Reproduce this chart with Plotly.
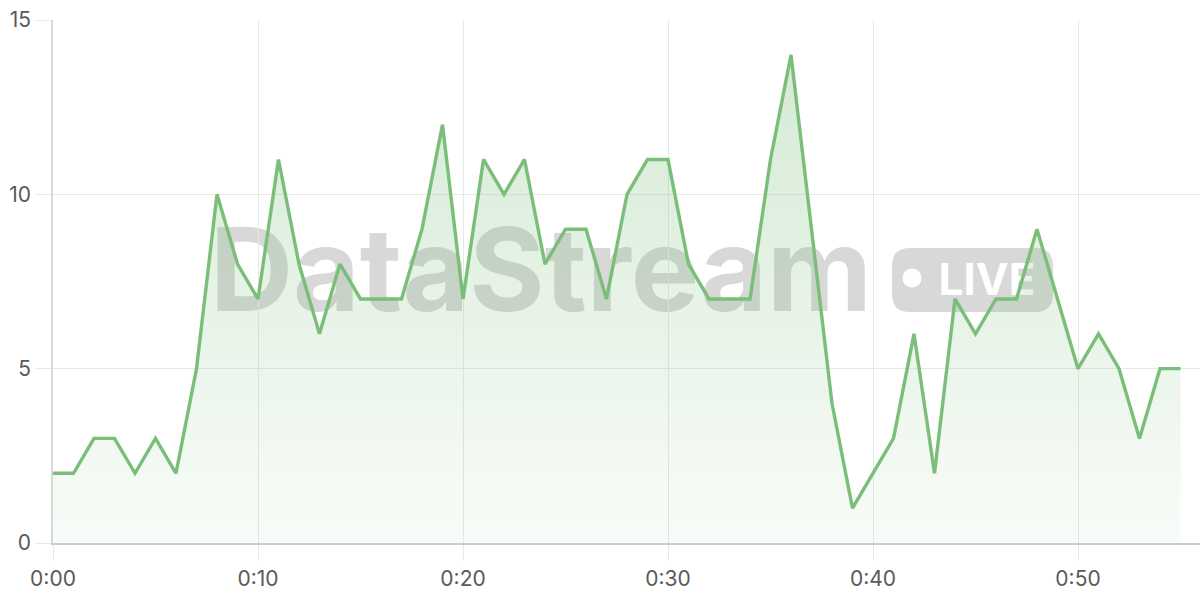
import plotly.graph_objects as go

minutes = list(range(56))
values = [2, 2, 3, 3, 2, 3, 2, 5, 10, 8,
          7, 11, 8, 6, 8, 7, 7, 7, 9, 12,
          7, 11, 10, 11, 8, 9, 9, 7, 10, 11,
          11, 8, 7, 7, 7, 11, 14, 9, 4, 1,
          2, 3, 6, 2, 7, 6, 7, 7, 9, 7,
          5, 6, 5, 3, 5, 5]
x_tick_vals = [0, 10, 20, 30, 40, 50]
x_tick_text = ["0:00", "0:10", "0:20", "0:30", "0:40", "0:50"]
y_tick_vals = [0, 5, 10, 15]
watermark_text = "DataStream"
badge_text = "LIVE"

W, H = 1200, 600
ML, MR, MT, MB = 53, 0, 20, 57
PW, PH = W - ML - MR, H - MT - MB


def px(x):
    return (x - ML) / PW


def py(y):
    return (H - MB - y) / PH


LINE = "rgb(122,190,122)"
WM = "rgba(140,140,140,0.34)"
FONT = "Inter, Liberation Sans, Arial, sans-serif"

fig = go.Figure()
fig.add_trace(go.Scatter(
    x=minutes, y=values, mode="lines",
    line=dict(color=LINE, width=3.4),
    fill="tozeroy",
    fillgradient=dict(type="vertical",
                      colorscale=[[0, "rgba(122,190,122,0.05)"],
                                  [1, "rgba(122,190,122,0.32)"]]),
    hoverinfo="skip", showlegend=False,
))

# badge rounded rect path in paper coords
bx0, bx1, by0, by1, r = 892, 1053, 248, 312, 18
def P(x, y):
    return f"{px(x):.5f},{py(y):.5f}"
path = (f"M {P(bx0 + r, by0)} L {P(bx1 - r, by0)} Q {P(bx1, by0)} {P(bx1, by0 + r)} "
        f"L {P(bx1, by1 - r)} Q {P(bx1, by1)} {P(bx1 - r, by1)} "
        f"L {P(bx0 + r, by1)} Q {P(bx0, by1)} {P(bx0, by1 - r)} "
        f"L {P(bx0, by0 + r)} Q {P(bx0, by0)} {P(bx0 + r, by0)} Z")

shapes = [
    dict(type="rect", xref="paper", yref="paper",
         x0=px(205), x1=px(877), y0=py(308), y1=py(223),
         line=dict(width=0), fillcolor="rgba(0,0,0,0)", layer="below",
         label=dict(text=watermark_text, textposition="middle center",
                    font=dict(size=115, color=WM, family=FONT, weight="bold"))),
    dict(type="path", xref="paper", yref="paper", path=path,
         line=dict(width=0), fillcolor=WM, layer="below"),
    dict(type="circle", xref="paper", yref="paper",
         x0=px(902.5), x1=px(921.5), y0=py(287.5), y1=py(268.5),
         line=dict(width=0), fillcolor="white", layer="below"),
    dict(type="rect", xref="paper", yref="paper",
         x0=px(936), x1=px(1038), y0=py(296), y1=py(260),
         line=dict(width=0), fillcolor="rgba(0,0,0,0)", layer="below",
         label=dict(text=badge_text, textposition="middle center",
                    font=dict(size=44, color="white", family=FONT, weight="bold"))),
]

fig.update_layout(
    width=W, height=H,
    margin=dict(l=ML, r=MR, t=MT, b=MB, pad=0),
    paper_bgcolor="white", plot_bgcolor="white",
    shapes=shapes,
    font=dict(family=FONT, color="#666666", size=21),
    xaxis=dict(range=[0, PW / 20.5], tickvals=x_tick_vals, ticktext=x_tick_text,
               showgrid=True, gridcolor="#e8e8e8", gridwidth=1,
               ticks="outside", ticklen=16, tickcolor="#e8e8e8", tickwidth=1,
               showline=True, linecolor="#cccccc", linewidth=1.5,
               zeroline=False, tickfont=dict(size=21, color="#5a5a5a")),
    yaxis=dict(range=[0, 15], tickvals=y_tick_vals,
               showgrid=True, gridcolor="#e8e8e8", gridwidth=1,
               ticks="outside", ticklen=16, tickcolor="#e8e8e8", tickwidth=1,
               showline=True, linecolor="#d8d8d8", linewidth=1.5,
               zeroline=False, tickfont=dict(size=21, color="#5a5a5a")),
)

fig.write_html("out.html", config={"displayModeBar": False},
               post_script="document.body.style.margin='0';document.body.style.overflow='hidden';")
